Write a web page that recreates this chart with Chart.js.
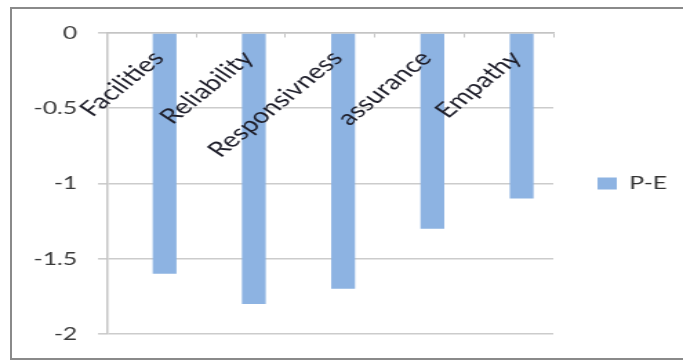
<!DOCTYPE html>
<html>
<head>
<meta charset="utf-8">
<script src="https://cdn.jsdelivr.net/npm/chart.js@4/dist/chart.umd.min.js"></script>
<style>
html,body{margin:0;padding:0;background:#fff;overflow:hidden;}
#page{position:relative;width:683px;height:360px;overflow:hidden;background:#fff;}
#stage{position:absolute;left:0;top:0;width:495px;height:360px;transform:scaleX(1.37980);transform-origin:0 0;}
#frame{position:absolute;left:10px;top:7px;width:700px;height:349px;border:2px solid #8a8a8a;pointer-events:none;}
</style>
</head>
<body>
<div id="page">
  <div id="stage"><canvas id="c" width="495" height="360"></canvas></div>
  <div id="frame"></div>
</div>
<script>
// ---- data ----
const categories = ['Facilities', 'Reliability', 'Responsivness', 'assurance', 'Empathy'];
const seriesLabel = 'P-E';
const peValues = [-1.6, -1.8, -1.7, -1.3, -1.1];
// empty first series slot (the original chart leaves room for it, so P-E sits right of centre)
const emptySlotValues = [null, null, null, null, null];
const yMin = -2;
const yMax = 0;
const yStep = 0.5;

const FONT = 'Lato, "Open Sans", sans-serif';

new Chart(document.getElementById('c'), {
  type: 'bar',
  data: {
    labels: categories,
    datasets: [
      { label: '', data: emptySlotValues, backgroundColor: 'rgba(0,0,0,0)',
        categoryPercentage: 0.58, barPercentage: 0.92 },
      { label: seriesLabel, data: peValues, backgroundColor: '#8DB3E2', borderWidth: 0,
        categoryPercentage: 0.58, barPercentage: 0.92 }
    ]
  },
  options: {
    responsive: false,
    animation: false,
    devicePixelRatio: 1,
    layout: { padding: { left: 0, right: 1.5, top: 33, bottom: 26 } },
    plugins: {
      tooltip: { enabled: false },
      legend: {
        position: 'right',
        labels: {
          filter: item => item.text !== '',
          boxWidth: 14,
          boxHeight: 12,
          padding: 32,
          color: '#333',
          font: { family: FONT, size: 18 }
        }
      }
    },
    scales: {
      x: {
        type: 'category',
        position: { y: 0 },
        offset: true,
        grid: { offset: true, drawOnChartArea: false, drawTicks: true, tickLength: 4, color: '#c4c4c4' },
        border: { display: true, color: '#c4c4c4', width: 1.5 },
        ticks: { z: 1, autoSkip: false, minRotation: 48, maxRotation: 48, padding: 9, labelOffset: 5,
                 color: '#1e1e2a', font: { family: FONT, size: 21 } }
      },
      y: {
        min: yMin,
        max: yMax,
        ticks: { stepSize: yStep, padding: 15, color: '#3a3a3a', font: { family: FONT, size: 18 },
                 callback: v => String(Number(v.toFixed(2))) },
        grid: { color: '#cccccc', lineWidth: 1.6, tickLength: 6.5 },
        border: { display: true, color: '#c4c4c4', width: 1.5 },
        afterFit: s => { s.width = 77.55; }
      }
    }
  }
});
</script>
</body>
</html>
